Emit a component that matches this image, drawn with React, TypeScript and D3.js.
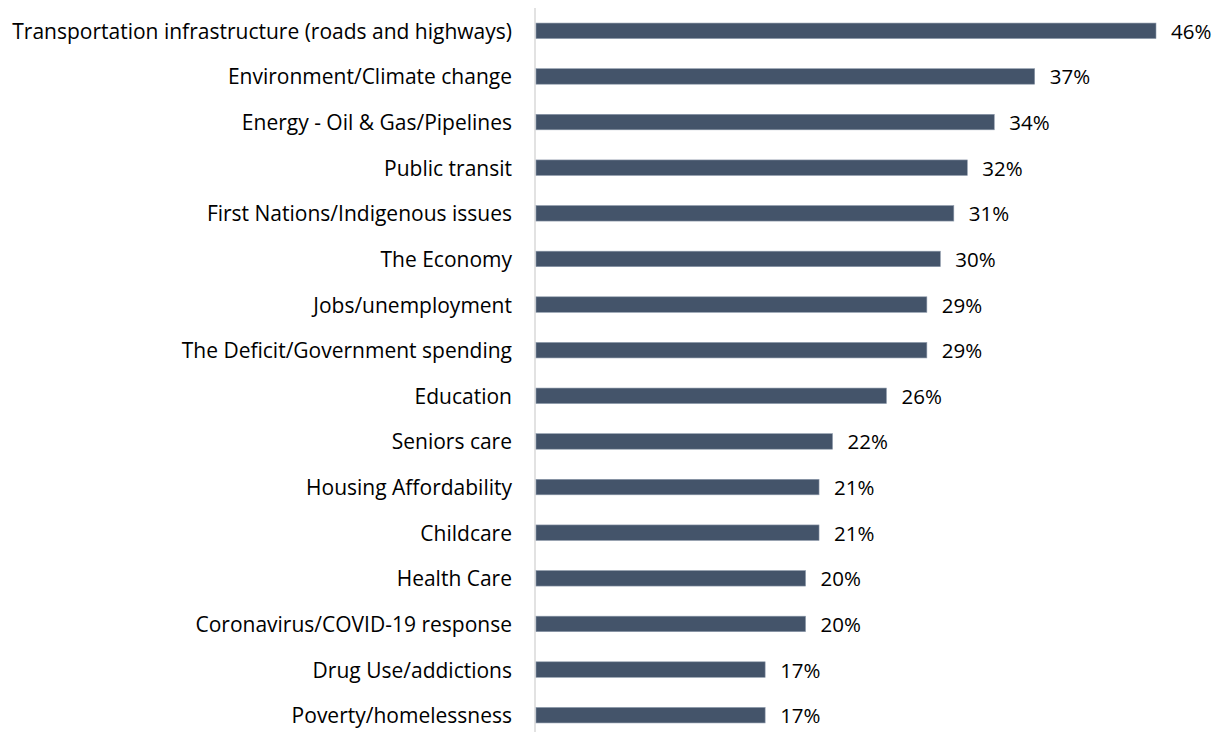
import React from "react";
import * as d3 from "d3";

const categories = [
  "Transportation infrastructure (roads and highways)",
  "Environment/Climate change",
  "Energy - Oil & Gas/Pipelines",
  "Public transit",
  "First Nations/Indigenous issues",
  "The Economy",
  "Jobs/unemployment",
  "The Deficit/Government spending",
  "Education",
  "Seniors care",
  "Housing Affordability",
  "Childcare",
  "Health Care",
  "Coronavirus/COVID-19 response",
  "Drug Use/addictions",
  "Poverty/homelessness",
];
const values = [46, 37, 34, 32, 31, 30, 29, 29, 26, 22, 21, 21, 20, 20, 17, 17];

const W = 1220;
const H = 732;
const axisX = 535;
const xScale = d3.scaleLinear().domain([0, 46]).range([axisX + 1, 1156]);
const yScale = d3
  .scaleBand<string>()
  .domain(categories)
  .range([8, 738])
  .paddingInner(0.66)
  .paddingOuter(0.33);

export default function App() {
  const bh = yScale.bandwidth();
  return (
    <svg
      width={W}
      height={H}
      style={{ position: "absolute", left: 0, top: 0, background: "#fff" }}
      fontFamily="'Open Sans', sans-serif"
    >
      <line x1={axisX} x2={axisX} y1={8} y2={H} stroke="#d9d9d9" strokeWidth={1.5} />
      {categories.map((c, i) => {
        const y = yScale(c)!;
        const cy = y + bh / 2;
        return (
          <g key={c}>
            <text x={512} y={cy} textAnchor="end" dominantBaseline="central" fontSize={21} fill="#000">
              {c}
            </text>
            <rect
              x={xScale(0)}
              y={y}
              width={xScale(values[i]) - xScale(0)}
              height={bh}
              fill="#44546A"
              stroke="#8e9aab"
              strokeWidth={0.6}
            />
            <text x={xScale(values[i]) + 15} y={cy} dominantBaseline="central" fontSize={20.5} fill="#000">
              {values[i]}%
            </text>
          </g>
        );
      })}
    </svg>
  );
}
